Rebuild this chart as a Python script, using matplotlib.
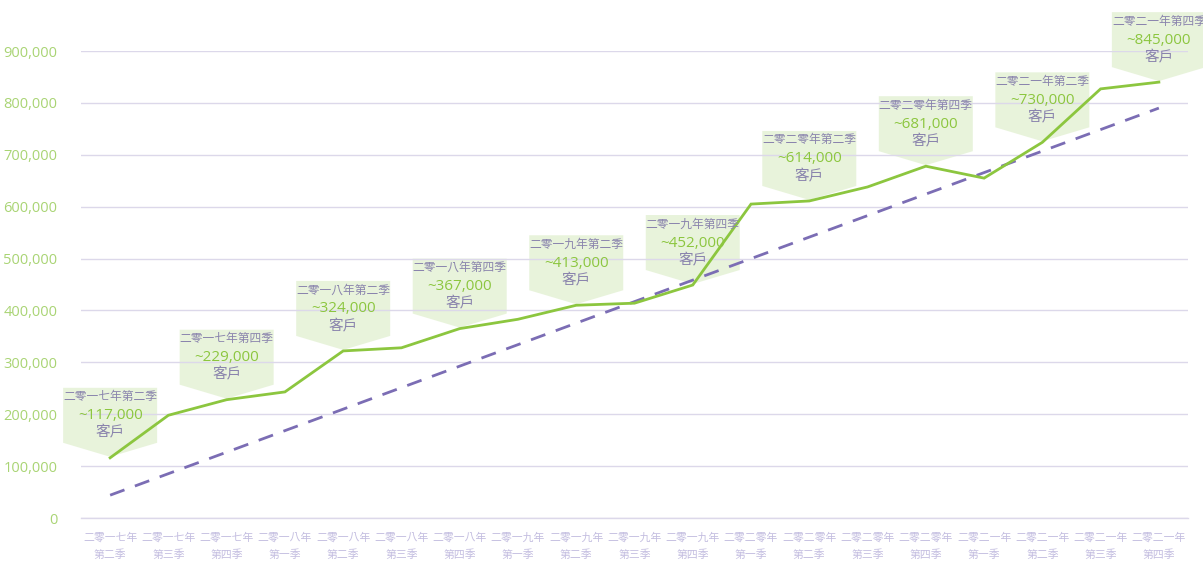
import matplotlib
matplotlib.use("Agg")
import matplotlib.pyplot as plt
from matplotlib.patches import Polygon
from matplotlib.ticker import FuncFormatter
from matplotlib.transforms import IdentityTransform

plt.rcParams['font.family'] = ['Noto Sans CJK TC', 'DejaVu Sans']

categories = ["二零一七年\n第二季", "二零一七年\n第三季", "二零一七年\n第四季",
              "二零一八年\n第一季", "二零一八年\n第二季", "二零一八年\n第三季", "二零一八年\n第四季",
              "二零一九年\n第一季", "二零一九年\n第二季", "二零一九年\n第三季", "二零一九年\n第四季",
              "二零二零年\n第一季", "二零二零年\n第二季", "二零二零年\n第三季", "二零二零年\n第四季",
              "二零二一年\n第一季", "二零二一年\n第二季", "二零二一年\n第三季", "二零二一年\n第四季"]
customers = [116000, 198000, 228000, 243000, 322000, 328000, 365000,
             383000, 410000, 414000, 449000,
             605000, 611000, 638000, 678000,
             655000, 724000, 827000, 840000]
trend_ends = [44000, 790000]

callout_idx = [0, 2, 4, 6, 8, 10, 12, 14, 16, 18]
callout_titles = ["二零一七年第二季", "二零一七年第四季", "二零一八年第二季", "二零一八年第四季",
                  "二零一九年第二季", "二零一九年第四季", "二零二零年第二季", "二零二零年第四季",
                  "二零二一年第二季", "二零二一年第四季"]
callout_values = ["~117,000", "~229,000", "~324,000", "~367,000", "~413,000",
                  "~452,000", "~614,000", "~681,000", "~730,000", "~845,000"]
callout_unit = "客戶"

GREEN = "#8cc63f"
PURPLE = "#7b6db4"
GRID = "#dcd8ea"
YTICK = "#a9d474"
XTICK = "#c3bde0"
TITLE_C = "#8a84ad"

W, H = 1203, 562
fig = plt.figure(figsize=(W / 100, H / 100), dpi=100)
left, right, bottom, top = 81, 1188, 518, 51
ax = fig.add_axes([left / W, 1 - bottom / H, (right - left) / W, (bottom - top) / H])

x = list(range(len(categories)))
ax.plot(x, customers, color=GREEN, lw=2.0, zorder=4, solid_joinstyle='miter')
ax.plot([x[0], x[-1]], trend_ends, color=PURPLE, lw=2.0, ls=(0, (5.5, 4)), zorder=3)

ax.set_xlim(-0.5, len(categories) - 0.5)
ax.set_ylim(0, 900000)
ax.set_yticks(range(0, 900001, 100000))
ax.yaxis.set_major_formatter(FuncFormatter(lambda v, p: f"{int(v):,}"))
ax.set_xticks(x)
ax.set_xticklabels(categories, fontsize=7.8, color=XTICK, linespacing=1.75)
ax.tick_params(axis='x', length=0, pad=10)
ax.tick_params(axis='y', length=0, pad=17, labelsize=10.5, labelcolor=YTICK)
for lab in ax.get_yticklabels():
    lab.set_family(['Open Sans', 'DejaVu Sans'])
ax.grid(axis='y', color=GRID, lw=1.0)
ax.set_axisbelow(True)
for s in ['top', 'right', 'left']:
    ax.spines[s].set_visible(False)
ax.spines['bottom'].set_color(GRID)
ax.spines['bottom'].set_linewidth(1.0)

fig.canvas.draw()
for i, t, v in zip(callout_idx, callout_titles, callout_values):
    px, py = ax.transData.transform((x[i], customers[i]))
    hw = 47
    verts = [(px - hw, py + 70), (px + hw, py + 70), (px + hw, py + 15),
             (px, py + 1), (px - hw, py + 15)]
    poly = Polygon(verts, closed=True, facecolor="#d6eabf",
                   alpha=0.55, edgecolor='none', zorder=0.3, clip_on=False)
    poly.set_transform(IdentityTransform())
    ax.add_artist(poly)
    fig.text(px / W, (py + 61) / H, t, ha='center', va='center', fontsize=8.5,
             color=TITLE_C)
    fig.text(px / W, (py + 42) / H, v, ha='center', va='center', fontsize=11,
             color=GREEN, family=['Open Sans', 'DejaVu Sans'])
    fig.text(px / W, (py + 25) / H, callout_unit, ha='center', va='center', fontsize=10.5,
             color=TITLE_C)

fig.savefig("out.png", dpi=100)
